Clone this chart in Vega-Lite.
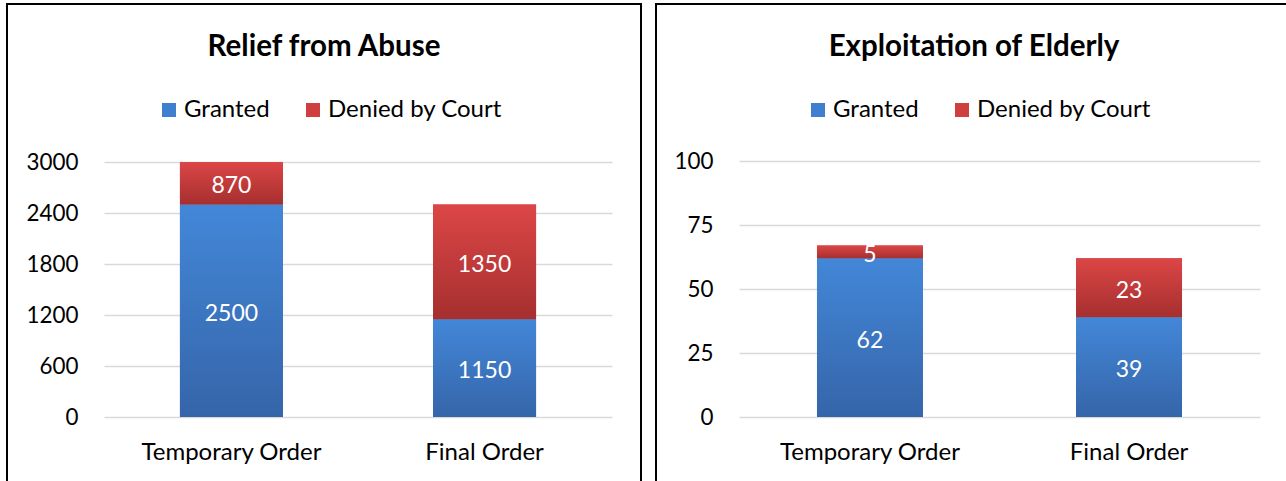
{
  "$schema": "https://vega.github.io/schema/vega-lite/v6.json",
  "padding": {"left": 6, "top": 3, "right": 0, "bottom": 0},
  "spacing": 13,
  "background": "white",
  "resolve": {"scale": {"color": "independent"}, "legend": {"color": "independent"}},
  "config": {
    "view": {"stroke": "black", "strokeWidth": 2},
    "font": "Lato",
    "axis": {"labelColor": "black", "labelFont": "Lato", "title": null, "domain": false, "ticks": false, "tickSize": 0, "labelPadding": 0, "labelLimit": 0},
    "legend": {"labelColor": "black", "labelFont": "Lato", "labelFontSize": 24, "labelLimit": 0, "symbolType": "square", "symbolSize": 196, "symbolStrokeWidth": 0, "labelOffset": 3, "columnPadding": 31, "orient": "none", "direction": "horizontal", "title": null},
    "title": {"font": "Lato", "fontSize": 29.5, "fontWeight": "bold", "color": "black", "anchor": "middle", "frame": "group", "baseline": "middle", "offset": -58}
  },
  "datasets": {
    "relief": [
      {"order": "Temporary Order", "status": "Granted", "value": 2500},
      {"order": "Temporary Order", "status": "Denied by Court", "value": 870},
      {"order": "Final Order", "status": "Granted", "value": 1150},
      {"order": "Final Order", "status": "Denied by Court", "value": 1350}
    ],
    "elder": [
      {"order": "Temporary Order", "status": "Granted", "value": 62},
      {"order": "Temporary Order", "status": "Denied by Court", "value": 5},
      {"order": "Final Order", "status": "Granted", "value": 39},
      {"order": "Final Order", "status": "Denied by Court", "value": 23}
    ]
  },
  "hconcat": [
    {
      "width": 634,
      "height": 490,
      "title": {"text": "Relief from Abuse"},
      "data": {"name": "relief"},
      "transform": [
        {"stack": "value", "groupby": ["order"], "sort": [{"field": "status", "order": "descending"}], "as": ["v0", "v1"]},
        {"calculate": "(min(datum.v0, 3000) + min(datum.v1, 3000)) / 2", "as": "mid"}
      ],
      "encoding": {
        "x": {"field": "order", "type": "nominal", "sort": ["Temporary Order", "Final Order"],
              "scale": {"range": [97, 605], "paddingInner": 0.593, "paddingOuter": 0.3},
              "axis": {"orient": "bottom", "offset": -54, "labelAngle": 0, "labelFontSize": 24, "grid": false}}
      },
      "layer": [
        {
          "mark": {"type": "bar"},
          "encoding": {
            "y": {"field": "v1", "type": "quantitative",
                  "scale": {"domain": [0, 3000], "range": [413, 158], "clamp": true, "nice": false, "zero": true},
                  "axis": {"orient": "left", "offset": -71, "values": [0, 600, 1200, 1800, 2400, 3000], "format": "d", "labelFontSize": 22.4, "grid": true, "gridColor": "#d9d9d9", "gridWidth": 1.5}},
            "y2": {"field": "v0"},
            "color": {"field": "status", "type": "nominal",
                      "scale": {"domain": ["Granted", "Denied by Court"], "range": ["#3f7fcf", "#cf3f3f"]},
                      "legend": {"legendX": 150, "legendY": 94}}
          }
        },
        {
          "mark": {"type": "bar"},
          "encoding": {
            "y": {"field": "v1", "type": "quantitative"},
            "y2": {"field": "v0"},
            "color": {
              "condition": {"test": "datum.status === 'Granted'",
                "value": {"gradient": "linear", "x1": 0, "y1": 0, "x2": 0, "y2": 1, "stops": [{"offset": 0, "color": "#4387d8"}, {"offset": 1, "color": "#3565a9"}]}},
              "value": {"gradient": "linear", "x1": 0, "y1": 0, "x2": 0, "y2": 1, "stops": [{"offset": 0, "color": "#dc4646"}, {"offset": 1, "color": "#a62f2f"}]}
            }
          }
        },
        {
          "mark": {"type": "text", "color": "white", "fontSize": 23, "font": "Lato", "baseline": "middle", "dy": 3},
          "encoding": {
            "y": {"field": "mid", "type": "quantitative"},
            "text": {"field": "value", "type": "quantitative", "format": "d"}
          }
        }
      ]
    },
    {
      "width": 636,
      "height": 490,
      "title": {"text": "Exploitation of Elderly"},
      "data": {"name": "elder"},
      "transform": [
        {"stack": "value", "groupby": ["order"], "sort": [{"field": "status", "order": "descending"}], "as": ["v0", "v1"]},
        {"calculate": "(min(datum.v0, 100) + min(datum.v1, 100)) / 2", "as": "mid"}
      ],
      "encoding": {
        "x": {"field": "order", "type": "nominal", "sort": ["Temporary Order", "Final Order"],
              "scale": {"range": [83, 604], "paddingInner": 0.591, "paddingOuter": 0.301},
              "axis": {"orient": "bottom", "offset": -54, "labelAngle": 0, "labelFontSize": 24, "grid": false}}
      },
      "layer": [
        {
          "mark": {"type": "bar"},
          "encoding": {
            "y": {"field": "v1", "type": "quantitative",
                  "scale": {"domain": [0, 100], "range": [413, 157], "clamp": true, "nice": false, "zero": true},
                  "axis": {"orient": "left", "offset": -57, "values": [0, 25, 50, 75, 100], "format": "d", "labelFontSize": 22.4, "grid": true, "gridColor": "#d9d9d9", "gridWidth": 1.5}},
            "y2": {"field": "v0"},
            "color": {"field": "status", "type": "nominal",
                      "scale": {"domain": ["Granted", "Denied by Court"], "range": ["#3f7fcf", "#cf3f3f"]},
                      "legend": {"legendX": 150, "legendY": 94}}
          }
        },
        {
          "mark": {"type": "bar"},
          "encoding": {
            "y": {"field": "v1", "type": "quantitative"},
            "y2": {"field": "v0"},
            "color": {
              "condition": {"test": "datum.status === 'Granted'",
                "value": {"gradient": "linear", "x1": 0, "y1": 0, "x2": 0, "y2": 1, "stops": [{"offset": 0, "color": "#4387d8"}, {"offset": 1, "color": "#3565a9"}]}},
              "value": {"gradient": "linear", "x1": 0, "y1": 0, "x2": 0, "y2": 1, "stops": [{"offset": 0, "color": "#dc4646"}, {"offset": 1, "color": "#a62f2f"}]}
            }
          }
        },
        {
          "mark": {"type": "text", "color": "white", "fontSize": 23, "font": "Lato", "baseline": "middle", "dy": 3},
          "encoding": {
            "y": {"field": "mid", "type": "quantitative"},
            "text": {"field": "value", "type": "quantitative", "format": "d"}
          }
        }
      ]
    }
  ]
}
